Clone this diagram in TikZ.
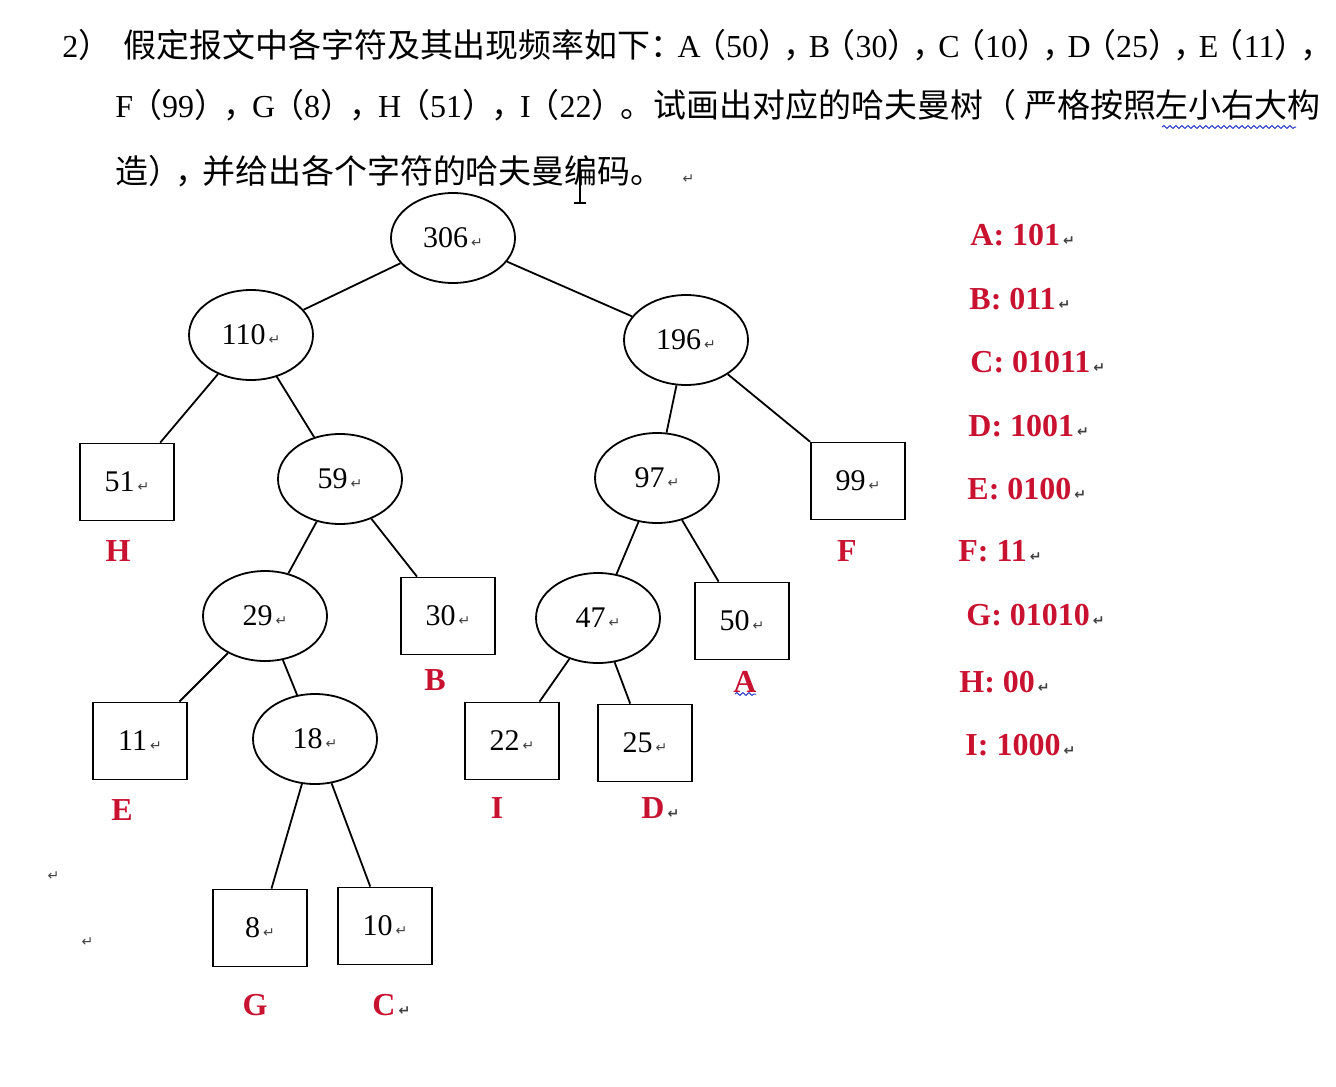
\documentclass[tikz,border=0pt]{standalone}
\usepackage{fontspec}
\setmainfont{Liberation Serif}
\newfontfamily\cjk[Scale=1.03]{Noto Sans CJK SC}
\newfontfamily\retfont{DejaVu Sans}
\usepackage{xcolor}
\usepackage{tikz}
\usetikzlibrary{shapes.geometric, positioning, decorations.pathmorphing}

\definecolor{codered}{RGB}{200,18,48}
\definecolor{wavyblue}{RGB}{40,60,200}

\newcommand{\ret}{\hspace{1.5pt}{\retfont\fontsize{7}{7}\selectfont\color{black!75}↵}}
\newcommand{\zp}[2][3pt]{{\cjk #2}\kern-#1}
\newcommand{\freq}[3][3pt]{#2\kern-#1{\cjk （}#3\zp[#1]{）}\zp[#1]{，}}

\begin{document}
\begin{tikzpicture}[
          x=0.5pt, y=-0.5pt,
          inner/.style={ellipse, draw, line width=0.9pt, minimum width=62pt, minimum height=45pt, inner sep=0pt, font=\fontsize{15}{18}\selectfont},
          leaf/.style={rectangle, draw, line width=0.9pt, minimum width=47pt, minimum height=38.5pt, inner sep=0pt, font=\fontsize{15}{18}\selectfont},
          leaftag/.style={text=codered, inner sep=0pt, font=\fontsize{16}{19}\selectfont\bfseries},
          codetxt/.style={leaftag, anchor=west},
          qline/.style={anchor=base west, inner sep=0pt, font=\fontsize{16}{19}\selectfont},
          branch/.style={line width=0.9pt},
          wavy/.style={wavyblue, line width=0.5pt, decorate, decoration={snake, amplitude=0.7pt, segment length=3pt}}
        ]
          \useasboundingbox (0,0) rectangle (1336,1086);

          % question text
          \node[qline] (q1) at (62,58) {2\zp{）}\hspace{9pt}{\cjk 假定报文中各字符及其出现频率如下：}\hspace{-3pt}\freq[3.8pt]{A}{50}\freq[3.8pt]{B}{30}\freq[3.8pt]{C}{10}\freq[3.8pt]{D}{25}E\kern-3.8pt{\cjk （}11\zp[3.8pt]{）}\zp[10pt]{，}};
          \node[qline] (q2) at (115,118) {\freq[2pt]{F}{99}\freq[2pt]{G}{8}\freq[2pt]{H}{51}I\kern-2pt{\cjk （}22\zp[2pt]{）}{\cjk 。试画出对应的哈夫曼树（\hspace{4pt}严格按照左小右大构}};
          \node[qline] (q3) at (115,183) {{\cjk 造\zp{）}\zp{，}并给出各个字符的哈夫曼编码。}\hspace{8pt}\ret};
          \draw[wavy] (1162,127) -- (1296,127);
          \draw[line width=0.8pt] (580,160) -- (580,203) (574,203) -- (586,203);

          % tree
          \node[inner] (n306) at (453,238) {306\ret};
          \node[inner] (n110) at (251,335) {110\ret};
          \node[inner] (n196) at (686,340) {196\ret};
          \node[leaf]  (l51)  at (127,482) {51\ret};
          \node[inner] (n59)  at (340,479) {59\ret};
          \node[inner] (n97)  at (657,478) {97\ret};
          \node[leaf]  (l99)  at (858,481) {99\ret};
          \node[inner] (n29)  at (265,616) {29\ret};
          \node[leaf]  (l30)  at (448,616) {30\ret};
          \node[inner] (n47)  at (598,618) {47\ret};
          \node[leaf]  (l50)  at (742,621) {50\ret};
          \node[leaf]  (l11)  at (140,741) {11\ret};
          \node[inner] (n18)  at (315,739) {18\ret};
          \node[leaf]  (l22)  at (512,741) {22\ret};
          \node[leaf]  (l25)  at (645,743) {25\ret};
          \node[leaf]  (l8)   at (260,928) {8\ret};
          \node[leaf]  (l10)  at (385,926) {10\ret};

          \draw[branch] (n306) -- (n110);
          \draw[branch] (n306) -- (n196);
          \draw[branch] (n110) -- (l51);
          \draw[branch] (n110) -- (n59);
          \draw[branch] (n196) -- (n97);
          \draw[branch] (n196) -- (l99);
          \draw[branch] (n59) -- (n29);
          \draw[branch] (n59) -- (l30);
          \draw[branch] (n97) -- (n47);
          \draw[branch] (n97) -- (l50);
          \draw[branch] (n29) -- (l11);
          \draw[branch] (n29) -- (n18);
          \draw[branch] (n47) -- (l22);
          \draw[branch] (n47) -- (l25);
          \draw[branch] (n18) -- (l8);
          \draw[branch] (n18) -- (l10);

          % letters under the leaves
          \node[leaftag] (tH) at (118,551) {H};
          \node[leaftag] (tF) at (847,551) {F};
          \node[leaftag] (tB) at (435,680) {B};
          \node[leaftag] (tA) at (745,682) {A};
          \draw[wavy] (735,694) -- (756,694);
          \node[leaftag] (tE) at (122,810) {E};
          \node[leaftag] (tI) at (497,808) {I};
          \node[leaftag, anchor=west] (tD) at (641,808) {D\ret};
          \node[leaftag] (tG) at (255,1005) {G};
          \node[leaftag, anchor=west] (tC) at (372,1005) {C\ret};
          \node (r1) at (52,876) {\ret};
          \node (r2) at (86,942) {\ret};

          % codes
          \node[codetxt] (cA) at (970,235) {A: 101\ret};
          \node[codetxt] (cB) at (969,299) {B: 011\ret};
          \node[codetxt] (cC) at (970,362) {C: 01011\ret};
          \node[codetxt] (cD) at (968,426) {D: 1001\ret};
          \node[codetxt] (cE) at (967,489) {E: 0100\ret};
          \node[codetxt] (cF) at (958,551) {F: 11\ret};
          \node[codetxt] (cG) at (966,615) {G: 01010\ret};
          \node[codetxt] (cH) at (959,682) {H: 00\ret};
          \node[codetxt] (cI) at (965,745) {I: 1000\ret};
        \end{tikzpicture}
\end{document}
